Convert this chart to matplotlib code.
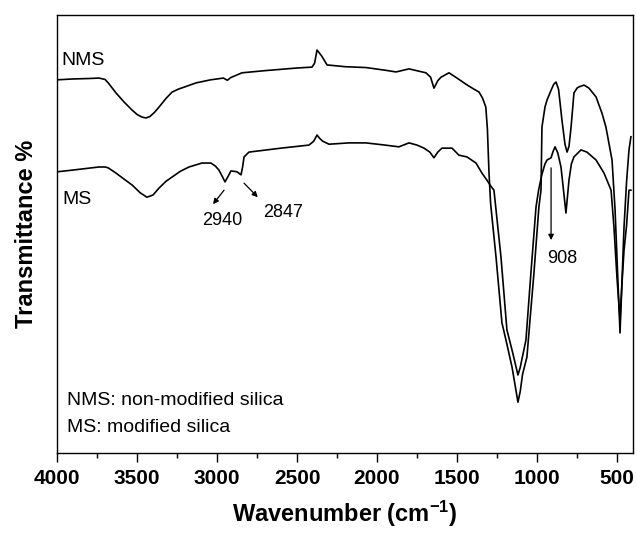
import matplotlib
matplotlib.use("Agg")
import matplotlib.pyplot as plt
from matplotlib.ticker import MultipleLocator

plt.rcParams["font.family"] = ["Liberation Sans", "DejaVu Sans"]
plt.rcParams["mathtext.default"] = "regular"

# FTIR spectra (wavenumber cm-1, transmittance, offset scale)
nms_wn = [4000, 3900, 3800, 3738, 3700, 3680, 3631, 3580, 3531, 3500, 3470, 3444,
          3420, 3390, 3362, 3320, 3281, 3240, 3200, 3131, 3040, 2960, 2935, 2915,
          2844, 2700, 2500, 2406, 2390, 2375, 2362, 2345, 2312, 2200, 2069, 1950,
          1881, 1800, 1694, 1665, 1644, 1620, 1600, 1550, 1500, 1444, 1400, 1362,
          1340, 1320, 1310, 1300, 1290, 1256, 1219, 1194, 1156, 1130, 1119, 1105,
          1090, 1063, 1040, 1019, 988, 975, 969, 950, 937, 910, 895, 881, 865, 844,
          825, 812, 800, 787, 769, 750, 737, 706, 675, 631, 594, 569, 531, 512, 495,
          481, 470, 456, 440, 425, 413]
nms_t = [85.2, 85.4, 85.5, 85.6, 85.3, 84.5, 82.2, 80.1, 78.3, 77.3, 76.7, 76.5,
         76.8, 77.8, 79.0, 80.9, 82.4, 83.1, 83.6, 84.5, 85.2, 85.6, 85.1, 85.7,
         86.8, 87.3, 87.9, 88.1, 89.0, 92.0, 91.4, 90.6, 88.6, 88.2, 88.0, 87.4,
         87.0, 87.7, 86.8, 85.8, 83.3, 85.0, 85.8, 86.8, 85.6, 84.2, 83.2, 82.4,
         81.0, 79.0, 74.0, 64.0, 57.0, 44.7, 29.7, 25.8, 19.6, 14.0, 11.6, 14.0,
         18.0, 21.9, 32.0, 41.1, 56.2, 60.0, 74.4, 79.0, 80.6, 83.0, 84.2, 84.7,
         83.0, 76.0, 70.5, 68.7, 70.0, 74.4, 82.2, 83.3, 83.6, 84.0, 83.3, 81.3,
         77.6, 74.4, 66.9, 55.5, 40.0, 27.4, 38.0, 51.6, 62.0, 69.2, 72.2]

ms_wn = [4000, 3900, 3738, 3700, 3680, 3631, 3580, 3531, 3480, 3438, 3400, 3362,
         3320, 3281, 3230, 3175, 3094, 3038, 3010, 2988, 2965, 2950, 2930, 2913,
         2875, 2850, 2840, 2831, 2800, 2600, 2425, 2395, 2375, 2360, 2340, 2300,
         2175, 2069, 1950, 1863, 1800, 1750, 1706, 1670, 1644, 1620, 1594, 1531,
         1488, 1438, 1381, 1344, 1313, 1290, 1269, 1225, 1188, 1156, 1130, 1119,
         1105, 1069, 1038, 1006, 990, 970, 950, 937, 912, 900, 887, 870, 850, 819,
         800, 785, 769, 725, 688, 631, 581, 537, 519, 500, 481, 470, 456, 440, 425,
         413]
ms_t = [64.2, 64.6, 65.3, 65.3, 65.1, 63.9, 62.5, 61.2, 59.4, 58.4, 58.9, 60.5,
        62.0, 63.0, 64.3, 65.3, 66.2, 66.2, 65.5, 64.6, 63.0, 61.9, 63.2, 64.4,
        64.2, 63.5, 65.3, 67.6, 68.7, 69.6, 70.3, 71.2, 72.6, 71.9, 71.2, 70.5,
        70.8, 70.8, 70.3, 69.9, 70.8, 70.3, 69.6, 68.7, 67.4, 68.7, 69.6, 69.6,
        68.0, 67.6, 66.2, 63.9, 62.3, 61.0, 60.0, 44.7, 28.1, 23.5, 19.5, 17.8,
        19.5, 25.8, 41.1, 56.2, 60.0, 63.5, 66.0, 66.9, 67.4, 68.8, 69.9, 68.5,
        65.3, 54.8, 62.3, 66.0, 67.6, 69.2, 68.7, 66.9, 63.9, 60.0, 51.6, 40.0,
        30.4, 38.0, 46.3, 52.0, 60.0, 60.0]

x_ticks = [4000, 3500, 3000, 2500, 2000, 1500, 1000, 500]


def main():
    fig = plt.figure(figsize=(6.37, 5.36), dpi=100)
    ax = fig.add_axes([0.0895, 0.1549, 0.9042, 0.8171])

    ax.plot(nms_wn, nms_t, color="black", lw=1.2)
    ax.plot(ms_wn, ms_t, color="black", lw=1.2)

    ax.set_xlim(4000, 400)
    ax.set_ylim(0, 100)
    ax.set_xticks(x_ticks)
    ax.set_xticklabels([str(v) for v in x_ticks], fontsize=15, fontweight="bold")
    ax.xaxis.set_minor_locator(MultipleLocator(250))
    ax.tick_params(axis="x", which="major", direction="out", length=6.5, width=1.0, pad=5)
    ax.tick_params(axis="x", which="minor", direction="out", length=3.6, width=1.0)
    ax.set_yticks([])
    for sp in ax.spines.values():
        sp.set_linewidth(1.0)

    ax.set_xlabel("Wavenumber (cm$^{-1}$)", fontsize=17, fontweight="bold", labelpad=8)
    ax.set_ylabel("Transmittance %", fontsize=17, fontweight="bold", labelpad=14)

    ax.text(3975, 89.7, "NMS", fontsize=14, va="center", ha="left")
    ax.text(3969, 57.8, "MS", fontsize=14, va="center", ha="left")

    arrow = dict(arrowstyle="-|>", color="black", lw=0.9, mutation_scale=8,
                 shrinkA=0, shrinkB=0)
    ax.annotate("", xy=(3025, 56.8), xytext=(2956, 60.0), arrowprops=arrow)
    ax.annotate("", xy=(2745, 58.4), xytext=(2831, 61.6), arrowprops=arrow)
    ax.annotate("", xy=(912, 48.6), xytext=(912, 65.1), arrowprops=arrow)
    ax.text(2969, 53.0, "2940", fontsize=13, ha="center", va="center")
    ax.text(2588, 54.8, "2847", fontsize=13, ha="center", va="center")
    ax.text(844, 44.5, "908", fontsize=13, ha="center", va="center")

    ax.text(3938, 11.9, "NMS: non-modified silica", fontsize=14, va="center", ha="left")
    ax.text(3938, 5.9, "MS: modified silica", fontsize=14, va="center", ha="left")

    fig.savefig("out.png", dpi=100)
    plt.close(fig)


if __name__ == "__main__":
    main()
